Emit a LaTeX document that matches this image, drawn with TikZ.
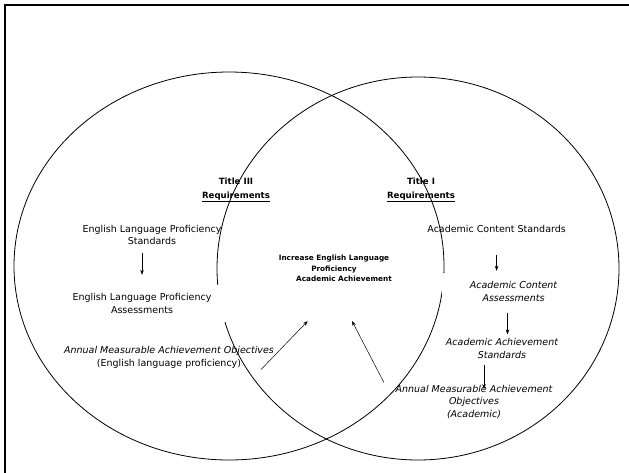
\documentclass[tikz,border=0pt]{standalone}
\usepackage{fontspec}
\setmainfont{DejaVu Sans}
\usetikzlibrary{positioning,arrows.meta}

\begin{document}
\begin{tikzpicture}[x=1pt, y=-1pt,
  req/.style={align=center, inner sep=1pt, font=\bfseries\fontsize{8.6}{14}\selectfont},
  item/.style={align=center, inner sep=1pt, font=\fontsize{9.5}{12.5}\selectfont},
  itemit/.style={item, font=\itshape\fontsize{9.5}{12.5}\selectfont},
  box/.style={fill=white, minimum width=#1, minimum height=37pt},
  goalbox/.style={align=center, inner sep=1pt, font=\bfseries\fontsize{7.3}{10.5}\selectfont},
  ar/.style={-{Stealth[length=5pt, width=3.6pt]}, line width=0.5pt, black},
  venn/.style={line width=0.8pt, black}
]

\useasboundingbox (0,0) rectangle (629,472);
\clip (0,0) rectangle (629,472);
\draw[line width=2pt] (5,5) rectangle (640,480);

\draw[venn] (229,266) ellipse [x radius=215, y radius=194];
\draw[venn] (418,268.5) ellipse [x radius=201, y radius=191.5];

\node[req]  (t3) at (236,190) {Title III\\\underline{Requirements}};
\node[req]  (t1) at (421,190) {Title I\\\underline{Requirements}};

\node[item] (elps) at (152,235) {English Language Proficiency\\Standards};
\node[item, box=181pt] (elpa) at (142,303.5) {English Language Proficiency\\Assessments};
\node[item] (amaoE) at (169,357.5) {\textit{Annual Measurable Achievement Objectives}\\(English language proficiency)};

\node[goalbox] (goal) at (334,268.5) {Increase English Language\\Proficiency\\\hspace*{20pt}Academic Achievement};

\node[item]   (acs) at (496.6,229) {Academic Content Standards};
\node[itemit, box=143pt] (aca) at (513.5,291.5) {Academic Content\\Assessments};
\node[itemit] (aas) at (502,348.5) {Academic Achievement\\Standards};
\node[itemit] (amaoA) at (474,402) {Annual Measurable Achievement\\Objectives\\(Academic)};

\draw[ar, shorten <=7pt, shorten >=10pt] (elps.south -| elpa.north) -- (elpa.north);
\draw[ar, shorten <=21pt, shorten >=2pt] (acs.south) -- (acs.south |- aca.north);
\draw[ar, shorten <=3pt, shorten >=3pt] ([xshift=-6pt]aca.south) -- ([xshift=-6pt]aca.south |- aas.north);
\draw[ar, shorten <=5pt, shorten >=-5pt] ([xshift=10pt]amaoA.north |- aas.south) -- ([xshift=10pt]amaoA.north);

\draw[ar] ([shift={(-14,0)}]amaoE.south east) -- ([shift={(-26.3,38)}]goal.south);
\draw[ar] ([shift={(-10.5,-1.5)}]amaoA.north west) -- ([shift={(18,38)}]goal.south);

\end{tikzpicture}
\end{document}
